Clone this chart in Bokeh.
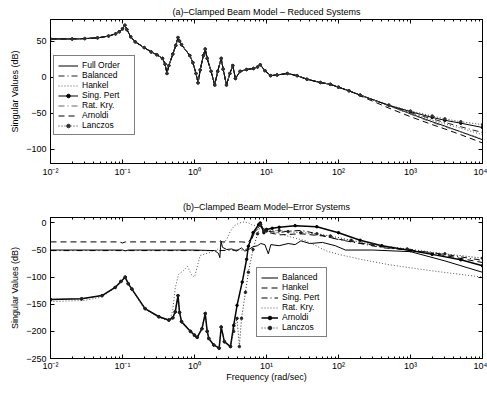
import numpy as np
from bokeh.plotting import figure
from bokeh.models import (LogAxis, LinearAxis, FixedTicker, CustomJSTickFormatter,
                          Legend, LegendItem, Range1d)
from bokeh.layouts import column
from bokeh.embed import file_html
from bokeh.resources import INLINE

FONT = "Liberation Sans"

# ---------------- (a) reduced systems ----------------
FREQ_FULL = [0.01, 0.02, 0.03, 0.045, 0.064, 0.08, 0.09, 0.1, 0.108, 0.115, 0.13, 0.15,
             0.2, 0.25, 0.3, 0.36, 0.39, 0.415, 0.44, 0.5, 0.55, 0.59, 0.62, 0.66, 0.86,
             0.95, 1.05, 1.12, 1.2, 1.33, 1.41, 1.5, 1.7, 1.91, 2.1, 2.35, 2.5, 2.78, 3.1,
             3.4, 3.7, 4.3, 5.3, 6.6, 7.5, 8.2, 9.5, 11.4, 14, 19.4, 26.6, 36.5, 56, 77,
             100, 140, 200]
DB_FULL = [53, 53, 53.5, 54.5, 57, 60, 63, 67, 72, 66, 56, 49,
           41, 35, 31, 26, 18, 5, 16, 32, 44, 55, 50, 45, 30,
           20, 5, -8, 10, 30, 39, 26, 8, -11, 8, 26, 11, -11, 5,
           16, -2, 8, 10.5, 12, 14, 17, 9, 2, 3, 5, 2, -3, -7.5, -10,
           -14, -19, -25]

TAIL_F = [200, 500, 1000, 2000, 3000, 5000, 10000]
TAIL_FULL = [-25, -39.5, -51, -62, -68, -76, -87]
TAIL_BAL = [-25, -39.5, -49.5, -58, -63, -69, -77]
TAIL_HANK = [-25, -40, -50.5, -60, -65, -71, -80]
TAIL_SP = [-25, -39, -48, -56, -60, -64, -70]
TAIL_RK = [-25, -40, -51.5, -63, -69, -76, -86]
TAIL_ARN = [-26, -43, -55, -66, -72, -80, -91.5]
TAIL_LAN = [-25, -39, -47, -54, -58, -62, -66]

# ---------------- (b) error systems ----------------
KRY_LOW_F = [0.01, 0.027, 0.052, 0.079, 0.095, 0.109, 0.12, 0.135, 0.206, 0.32, 0.44, 0.5,
             0.54, 0.59, 0.62, 0.66, 0.88, 1.0, 1.09, 1.27, 1.41, 1.5, 1.58, 1.85, 2.2,
             2.35, 2.6, 3.16]
KRY_LOW_DB = [-141, -140, -134, -119, -108, -100, -112, -122, -158, -173, -179, -175,
              -164, -134, -165, -182, -200, -207, -211, -195, -167, -200, -213, -225, -231,
              -192, -219, -228]
ARN_HI_F = [3.5, 3.9, 4.6, 5.3, 5.6, 6.5, 7.8, 8.2, 9.2, 10, 12, 15, 25, 50, 100, 200,
            400, 1000, 2000, 5000, 10000]
ARN_HI_DB = [-189, -152, -109, -67, -43, -18, -3, 0, -18, -12, -10, -8, -5, -7, -18, -32,
             -42, -51, -58, -68, -79]
LAN_HI_F = [3.5, 3.9, 4.2, 4.5, 5.1, 5.6, 6.5, 7.5, 8.3, 9.2, 10, 15, 20, 30, 50, 77, 150,
            300, 900, 3000, 10000]
LAN_HI_DB = [-200, -176, -228, -176, -128, -91, -49, -20, -3, -15, -15, -14, -16, -18, -20,
             -24, -32, -40, -48, -57, -65]
BAL_ERR_F = [0.01, 0.1, 0.11, 0.12, 1.0, 1.9, 2.15, 2.25, 2.33, 2.45, 2.8, 3.3, 3.8, 4.5,
             5.0, 5.5, 6.5, 7.5, 8.3, 9.5, 10.6, 11.5, 15, 20, 25, 30, 40, 60, 90, 125, 300,
             1000, 3000, 10000]
BAL_ERR_DB = [-50, -50, -51.5, -50, -50, -51, -56, -64, -34, -45, -49, -48, -52, -46,
              -52, -50, -44, -42, -38, -40, -57, -40, -42, -38, -40, -33, -38, -36, -42, -50, -50,
              -53, -70, -91]
HANK_ERR_F = [0.01, 0.09, 0.1, 0.11, 0.55, 0.6, 0.65, 2.2, 2.3, 2.4, 4.5, 5.5, 6.2, 7, 8, 9,
              11, 15, 30, 60, 100, 200, 500, 1000, 3000, 10000]
HANK_ERR_DB = [-35, -35, -37, -35, -35, -36.5, -35, -35, -33, -35, -35, -36, -28, -15, -8, -10,
               -18, -22, -20, -24, -30, -37, -46, -50, -60, -73]
SP_ERR_F = [0.01, 1.0, 2.0, 4.5, 5.5, 6.2, 7, 8, 9, 10, 15, 20, 30, 40, 95, 200, 425, 1000,
            3000, 10000]
SP_ERR_DB = [-51, -51, -51, -50, -48, -30, -15, -6, -10, -15, -18, -15, -14, -17, -30, -38,
             -46, -50, -58, -69]
RK_ERR_F = [0.01, 0.03, 0.05, 0.08, 0.108, 0.135, 0.2, 0.32, 0.45, 0.5, 0.54, 0.6, 0.7, 0.8,
            0.9, 1.0, 1.2, 1.6, 2.0, 2.3, 2.8, 3.16, 3.6, 4.2, 5.0, 5.6, 6.5, 8.0, 10, 15, 25,
            35, 69, 100, 202, 500, 1900, 10000]
RK_ERR_DB = [-145, -143, -137, -120, -101, -123, -158, -174, -182, -160, -120, -95, -88, -80,
             -95, -100, -60, -55, -50, -45, -30, -15, -5, 0, 2, 0, -5, -3, -12, -20, -28,
             -33, -52, -58, -67, -77, -88, -100]

TOP_TITLE = "(a)\u2013Clamped Beam Model \u2013 Reduced Systems"
BOT_TITLE = "(b)\u2013Clamped Beam Model\u2013Error Systems"
Y_LABEL = "Singular Values (dB)"
X_LABEL = "Frequency (rad/sec)"
TOP_YTICKS = [-100, -50, 0, 50]
BOT_YTICKS = [-250, -200, -150, -100, -50, 0]
X_MAJOR = [1e-2, 1e-1, 1e0, 1e1, 1e2, 1e3, 1e4]
X_MINOR = [m * 10.0 ** e for e in range(-2, 4) for m in range(2, 10)]

SUP_JS = """
const s = {'-':'\\u207B','0':'\\u2070','1':'\\u00B9','2':'\\u00B2','3':'\\u00B3','4':'\\u2074',
           '5':'\\u2075','6':'\\u2076','7':'\\u2077','8':'\\u2078','9':'\\u2079'};
const e = Math.round(Math.log10(tick));
return '10' + String(e).split('').map(c => s[c]).join('');
"""
MINUS_JS = "return tick < 0 ? '\\u2212' + Math.abs(tick) : String(tick);"
BLANK_JS = "return '';"

DASHDOT = "6 3 1 3"
DOT = "1 2"
DASH = "6 4"


def style_axis(ax, labels=True):
    ax.axis_line_color = "black"
    ax.axis_line_width = 1
    ax.major_tick_in = 4
    ax.major_tick_out = 0
    ax.minor_tick_in = 2
    ax.minor_tick_out = 0
    ax.major_tick_line_color = "black"
    ax.minor_tick_line_color = "black"
    ax.major_label_text_font = FONT
    ax.major_label_text_font_size = "9px"
    ax.major_label_text_color = "black"
    ax.major_label_standoff = 3 if labels else 0
    ax.axis_label_text_font = FONT
    ax.axis_label_text_font_size = "9px"
    ax.axis_label_text_font_style = "normal"
    ax.axis_label_text_color = "black"


def make_fig(height, top, bottom, y0, y1, yticks, title, title_standoff, xlabel=None):
    p = figure(width=487, height=height, x_axis_type="log",
               x_range=Range1d(0.01, 1e4), y_range=Range1d(y0, y1),
               output_backend="svg", toolbar_location=None,
               min_border_left=50, min_border_right=5,
               min_border_top=top, min_border_bottom=bottom)
    p.grid.visible = False
    p.outline_line_color = "black"
    p.background_fill_color = "white"
    p.border_fill_color = "white"

    p.title.text = title
    p.title.align = "center"
    p.title.text_font = FONT
    p.title.text_font_size = "9px"
    p.title.text_font_style = "normal"
    p.title.text_color = "black"
    p.title.standoff = title_standoff

    xa = p.xaxis[0]
    xa.ticker = FixedTicker(ticks=X_MAJOR, minor_ticks=X_MINOR)
    xa.formatter = CustomJSTickFormatter(code=SUP_JS)
    style_axis(xa)
    if xlabel:
        xa.major_label_standoff = 2
        xa.axis_label = xlabel
        xa.axis_label_standoff = -2

    ya = p.yaxis[0]
    ya.ticker = FixedTicker(ticks=yticks, minor_ticks=[])
    ya.formatter = CustomJSTickFormatter(code=MINUS_JS)
    style_axis(ya)
    ya.major_label_standoff = 4
    ya.axis_label = Y_LABEL
    ya.axis_label_standoff = 3

    top_ax = LogAxis(ticker=FixedTicker(ticks=X_MAJOR, minor_ticks=X_MINOR),
                     formatter=CustomJSTickFormatter(code=BLANK_JS))
    style_axis(top_ax, labels=False)
    p.add_layout(top_ax, "above")
    right_ax = LinearAxis(ticker=FixedTicker(ticks=yticks, minor_ticks=[]),
                          formatter=CustomJSTickFormatter(code=BLANK_JS))
    style_axis(right_ax, labels=False)
    p.add_layout(right_ax, "right")
    return p


def draw(p, f, db, dash="solid", color="black", width=1.0, marker=False):
    rs = [p.line(f, db, line_color=color, line_width=width, line_dash=dash)]
    if marker:
        rs.append(p.scatter(f, db, marker="circle", size=2.5, color=color))
    return rs


def reduced(tail):
    f = np.array(FREQ_FULL)
    d = np.array(DB_FULL)
    m = f < TAIL_F[0]
    return np.concatenate([f[m], TAIL_F]), np.concatenate([d[m], tail])


# ---- top figure
p1 = make_fig(191, 19, 28, -120, 80, TOP_YTICKS, TOP_TITLE, 5)
items1 = []
f, d = reduced(TAIL_FULL)
items1.append(("Full Order", draw(p1, f, d)))
f, d = reduced(TAIL_BAL)
items1.append(("Balanced", draw(p1, f, d, dash=DASHDOT, color="#222")))
f, d = reduced(TAIL_HANK)
items1.append(("Hankel", draw(p1, f, d, dash=DOT, color="#555")))
f, d = reduced(TAIL_SP)
items1.append(("Sing. Pert", draw(p1, f, d, marker=True)))
f, d = reduced(TAIL_RK)
items1.append(("Rat. Kry.", draw(p1, f, d, dash=DASHDOT, color="#666")))
f, d = reduced(TAIL_ARN)
items1.append(("Arnoldi", draw(p1, f, d, dash=DASH)))
f, d = reduced(TAIL_LAN)
items1.append(("Lanczos", draw(p1, f, d, dash=DOT, color="#333", marker=True)))

# ---- bottom figure
p2 = make_fig(203, 26, 36, -250, 10, BOT_YTICKS, BOT_TITLE, 12, xlabel=X_LABEL)
items2 = []
items2.append(("Balanced", draw(p2, BAL_ERR_F, BAL_ERR_DB)))
items2.append(("Hankel", draw(p2, HANK_ERR_F, HANK_ERR_DB, dash=DASH)))
items2.append(("Sing. Pert", draw(p2, SP_ERR_F, SP_ERR_DB, dash=DASHDOT)))
items2.append(("Rat. Kry.", draw(p2, RK_ERR_F, RK_ERR_DB, dash=DOT, color="#555")))
arn_f = KRY_LOW_F + ARN_HI_F
arn_d = KRY_LOW_DB + ARN_HI_DB
items2.append(("Arnoldi", draw(p2, arn_f, arn_d, width=1.5, marker=True)))
lan_f = KRY_LOW_F + LAN_HI_F
lan_d = KRY_LOW_DB + LAN_HI_DB
items2.append(("Lanczos", draw(p2, lan_f, lan_d, dash=DOT, color="#222", marker=True)))


def add_legend(p, items, loc, glyph_w, label_w):
    leg = Legend(items=[LegendItem(label=l, renderers=r) for l, r in items],
                 location=loc, border_line_color="black", border_line_width=1.5,
                 padding=4, spacing=0, glyph_width=glyph_w, glyph_height=9,
                 label_height=9, label_width=label_w, label_standoff=4,
                 label_text_font=FONT, label_text_font_size="8.5px",
                 label_text_color="black", margin=0,
                 background_fill_color="white", background_fill_alpha=1)
    p.add_layout(leg)


add_legend(p1, items1, (3, 28), 20, 48)
add_legend(p2, items2, (206, 21), 17, 40)

layout = column(p1, p2)
open("out.html", "w").write(file_html(layout, INLINE))
